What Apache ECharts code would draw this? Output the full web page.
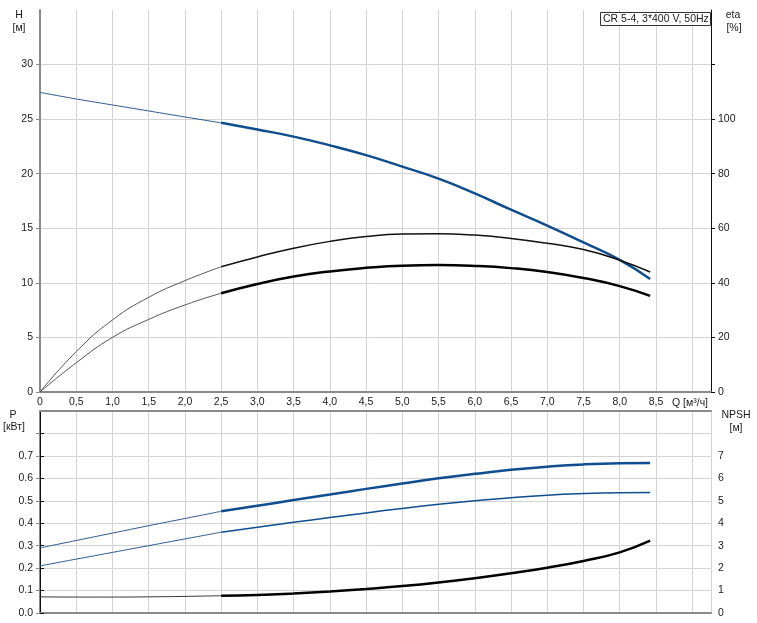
<!DOCTYPE html>
<html>
<head>
<meta charset="utf-8">
<script src="https://cdn.jsdelivr.net/npm/echarts@6/dist/echarts.min.js"></script>
<style>
html,body{margin:0;padding:0;background:#fff;}
#c{width:757px;height:623px;}
</style>
</head>
<body>
<div id="c"></div>
<script>
// ---- data ----
const Q_THIN = [0, 0.5, 1.0, 1.5, 2.0, 2.5];
const Q_MAIN = [2.5, 3.0, 3.5, 4.0, 4.5, 5.0, 5.5, 6.0, 6.5, 7.0, 7.5, 8.0, 8.42];

const H_THIN = [27.45, 26.85, 26.3, 25.75, 25.2, 24.66];
const H_MAIN = [24.66, 24.05, 23.4, 22.6, 21.7, 20.65, 19.55, 18.2, 16.7, 15.25, 13.7, 12.1, 10.35];

const ETA1_THIN = [0, 14.8, 26.4, 34.7, 40.8, 45.9];
const ETA1_MAIN = [45.9, 49.5, 52.7, 55.2, 57.0, 57.9, 58.0, 57.5, 56.3, 54.5, 52.2, 48.3, 44.0];

const ETA2_THIN = [0, 10.7, 20.0, 26.6, 31.9, 36.2];
const ETA2_MAIN = [36.2, 39.6, 42.3, 44.2, 45.5, 46.3, 46.5, 46.2, 45.4, 44.0, 41.8, 38.8, 35.2];

const P1_THIN = [0.29, 0.323, 0.356, 0.389, 0.421, 0.453];
const P1_MAIN = [0.453, 0.478, 0.503, 0.528, 0.553, 0.577, 0.600, 0.620, 0.638, 0.652, 0.662, 0.667, 0.668];

const P2_THIN = [0.21, 0.24, 0.27, 0.30, 0.33, 0.36];
const P2_MAIN = [0.36, 0.382, 0.404, 0.425, 0.446, 0.466, 0.484, 0.500, 0.514, 0.525, 0.532, 0.536, 0.537];

const NPSH_THIN = [0.72, 0.71, 0.71, 0.72, 0.74, 0.77];
const NPSH_MAIN = [0.77, 0.80, 0.87, 0.96, 1.07, 1.20, 1.36, 1.55, 1.77, 2.02, 2.32, 2.70, 3.22];

const TITLE_BOX = 'CR 5-4, 3*400 V, 50Hz';
const Q_UNIT = 'Q [м³/ч]';

// ---- helpers ----
const zip = (xs, ys) => xs.map((x, i) => [x, ys[i]]);
const steps = (from, to, step) => { const r = []; for (let i = 0; from + i * step <= to + 1e-9; i++) r.push(+(from + i * step).toFixed(4)); return r; };
const FONT = "'Liberation Sans', Arial, sans-serif";
const FS = 10.5;
const TXT = '#1a1a1a';
const GRIDC = '#d3d3d3';
const BLUE = '#0f4d8f';

function line(name, xi, yi, xs, ys, color, width, extra) {
  return Object.assign({
    name, type: 'line', xAxisIndex: xi, yAxisIndex: yi,
    data: zip(xs, ys), showSymbol: false, symbol: 'none',
    smooth: 0.5,
    lineStyle: { color, width }, silent: true, animation: false, z: 5
  }, extra || {});
}

const chart = echarts.init(document.getElementById('c'), null, { renderer: 'canvas' });

const xCommon = {
  type: 'value', min: 0, max: 9.26, interval: 0.5,
  axisTick: { show: false },
  splitLine: { show: true, lineStyle: { color: GRIDC, width: 1 } },
  axisLine: { show: true, onZero: false, lineStyle: { color: '#8a8a8a', width: 2 } }
};

function label(text, x, y) {
  return { type: 'text', x, y, style: { text, font: FS + 'px ' + FONT, fill: TXT, textAlign: 'center', textVerticalAlign: 'middle' } };
}

const option = {
  animation: false,
  backgroundColor: '#fff',
  textStyle: { fontFamily: FONT },
  grid: [
    { left: 40, right: 46, top: 10, height: 382 },
    { left: 40, right: 46, top: 411, height: 202 }
  ],
  xAxis: [
    Object.assign({}, xCommon, {
      gridIndex: 0, position: 'bottom',
      axisLabel: {
        show: true, color: TXT, fontSize: FS, fontFamily: FONT, margin: 5,
        formatter: v => (v > 8.6 ? '' : (v === 0 ? '0' : v.toFixed(1).replace('.', ',')))
      }
    }),
    Object.assign({}, xCommon, {
      gridIndex: 1, position: 'bottom', axisLabel: { show: false }
    }),
    Object.assign({}, xCommon, {
      gridIndex: 1, position: 'top', axisLabel: { show: false },
      splitLine: { show: false }
    })
  ],
  yAxis: [
    {
      type: 'value', gridIndex: 0, position: 'left', min: 0, max: 35, interval: 5,
      axisLine: { show: true, lineStyle: { color: '#8a8a8a', width: 2 } },
      axisTick: { show: true, length: 4, customValues: steps(0, 30, 5), lineStyle: { color: '#8a8a8a' } },
      axisLabel: { color: TXT, fontSize: FS, fontFamily: FONT, margin: 7,
        formatter: v => (v > 30 ? '' : String(v)) },
      splitLine: { show: true, lineStyle: { color: GRIDC, width: 1 } }
    },
    {
      type: 'value', gridIndex: 0, position: 'right', min: 0, max: 140, interval: 20,
      axisLine: { show: true, lineStyle: { color: '#111', width: 1 } },
      axisTick: { show: true, length: 4, customValues: steps(0, 120, 20), lineStyle: { color: '#111' } },
      axisLabel: { color: TXT, fontSize: FS, fontFamily: FONT, margin: 7,
        formatter: v => (v > 100 ? '' : String(v)) },
      splitLine: { show: false }
    },
    {
      type: 'value', gridIndex: 1, position: 'left', min: 0, max: 0.9, interval: 0.1,
      axisLine: { show: true, lineStyle: { color: '#8a8a8a', width: 2 } },
      axisTick: { show: true, length: 4, customValues: steps(0, 0.8, 0.1), lineStyle: { color: '#8a8a8a' } },
      axisLabel: { color: TXT, fontSize: FS, fontFamily: FONT, margin: 7,
        formatter: v => (v > 0.75 ? '' : v.toFixed(1)) },
      splitLine: { show: true, lineStyle: { color: GRIDC, width: 1 } }
    },
    {
      type: 'value', gridIndex: 1, position: 'right', min: 0, max: 9, interval: 1,
      axisLine: { show: true, lineStyle: { color: '#111', width: 1 } },
      axisTick: { show: true, length: 4, customValues: steps(0, 8, 1), lineStyle: { color: '#111' } },
      axisLabel: { color: TXT, fontSize: FS, fontFamily: FONT, margin: 7,
        formatter: v => (v > 7.5 ? '' : String(Math.round(v))) },
      splitLine: { show: false }
    }
  ],
  series: [
    // top panel: H
    line('H thin', 0, 0, Q_THIN, H_THIN, '#2d5a8e', 1),
    line('H', 0, 0, Q_MAIN, H_MAIN, BLUE, 2.5),
    // eta
    line('eta1 thin', 0, 1, Q_THIN, ETA1_THIN, '#555', 1),
    line('eta1', 0, 1, Q_MAIN, ETA1_MAIN, '#111', 1.5),
    line('eta2 thin', 0, 1, Q_THIN, ETA2_THIN, '#555', 1),
    line('eta2', 0, 1, Q_MAIN, ETA2_MAIN, '#000', 2.5),
    // bottom panel: P1, P2
    line('P1 thin', 1, 2, Q_THIN, P1_THIN, '#2d5a8e', 1),
    line('P1', 1, 2, Q_MAIN, P1_MAIN, BLUE, 2.5, {
      label: { show: true, position: 'top', distance: 1, color: '#1f4f86', fontSize: FS, fontFamily: FONT,
        formatter: p => (p.dataIndex === Q_MAIN.length - 1 ? 'P1' : '') }
    }),
    line('P2 thin', 1, 2, Q_THIN, P2_THIN, '#2d5a8e', 1),
    line('P2', 1, 2, Q_MAIN, P2_MAIN, BLUE, 1.5, {
      label: { show: true, position: 'bottom', distance: 1, color: '#1f4f86', fontSize: FS, fontFamily: FONT,
        formatter: p => (p.dataIndex === Q_MAIN.length - 1 ? 'P2' : '') }
    }),
    // NPSH
    line('NPSH thin', 1, 3, Q_THIN, NPSH_THIN, '#333', 1),
    line('NPSH', 1, 3, Q_MAIN, NPSH_MAIN, '#000', 2.5)
  ],
  graphic: [
    label('H', 19, 15),
    label('[м]', 19, 28),
    label('eta', 733, 15),
    label('[%]', 734, 28),
    label('P', 13, 415),
    label('[кВт]', 14, 427),
    label('NPSH', 736, 415),
    label('[м]', 736, 428),
    { type: 'text', x: 672, y: 403,
      style: { text: Q_UNIT, font: FS + 'px ' + FONT, fill: TXT, textAlign: 'left', textVerticalAlign: 'middle' } },
    { type: 'rect', x: 600.5, y: 12.5, shape: { width: 110, height: 13 },
      style: { fill: '#fff', stroke: '#333', lineWidth: 1 }, z: 10 },
    { type: 'text', x: 603, y: 19, z: 11,
      style: { text: TITLE_BOX, font: FS + 'px ' + FONT, fill: TXT, textAlign: 'left', textVerticalAlign: 'middle' } }
  ]
};

chart.setOption(option);
</script>
</body>
</html>
